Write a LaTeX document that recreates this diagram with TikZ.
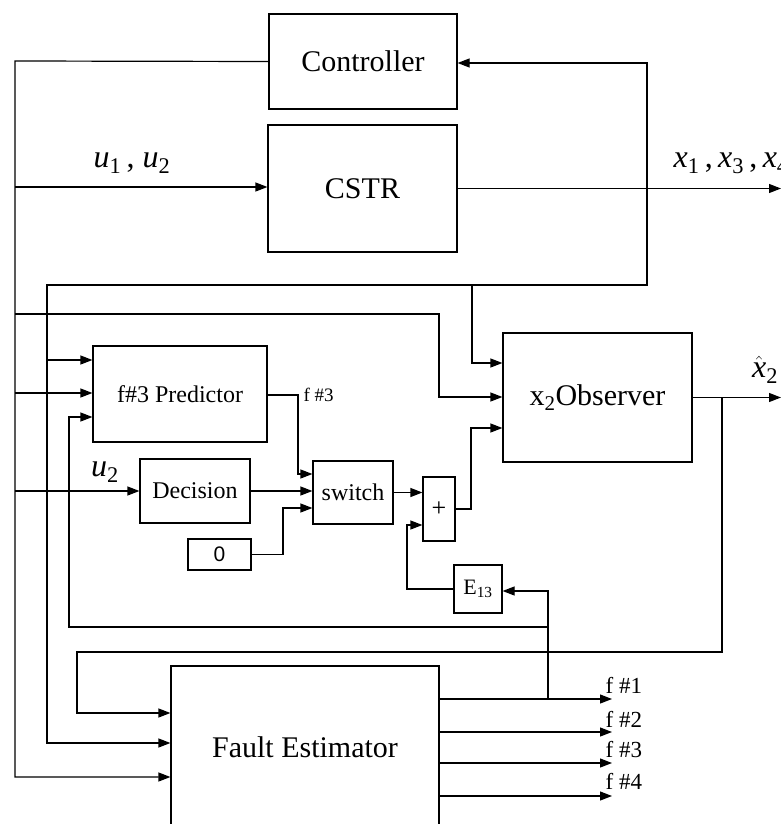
\documentclass[tikz,border=0pt]{standalone}
\usepackage{fontspec}
\setmainfont{Liberation Serif}
\newfontfamily\sansf{Liberation Sans}
\usetikzlibrary{arrows.meta}
\newcommand\fsz[1]{\fontsize{#1}{#1}\selectfont}
\begin{document}
\begin{tikzpicture}[x=1pt,y=-1pt,line width=1.2pt,
  >={Triangle[length=12pt,width=9pt]},
  blk/.style={draw,inner sep=0pt,font=\fsz{30}},
  sblk/.style={draw,inner sep=0pt,font=\fsz{24}},
  lbl/.style={inner sep=0pt,font=\fsz{32}},
  flbl/.style={inner sep=0pt,anchor=west,font=\fsz{23}}]
\clip (0,0) rectangle (781,824);
\fill[white] (0,0) rectangle (781,824);

% blocks
\node[blk,minimum width=188,minimum height=95] (ctrl) at (363,61.5) {Controller};
\node[blk,minimum width=189,minimum height=127] (cstr) at (362.5,188.5) {CSTR};
\node[blk,minimum width=189,minimum height=129] (obs) at (597.5,397.5) {x\textsubscript{2}Observer};
\node[sblk,minimum width=174,minimum height=96] (pred) at (180,394) {f\#3 Predictor};
\node[sblk,minimum width=110,minimum height=64] (dec) at (195,491) {Decision};
\node[sblk,minimum width=80,minimum height=63] (sw) at (353,492.5) {switch};
\node[draw,inner sep=0pt,minimum width=63,minimum height=31,font=\sansf\fsz{21}] (zero) at (219.5,554.5) {0};
\node[draw,inner sep=0pt,minimum width=32,minimum height=64,font=\fsz{26}] (plus) at (439,509) {+};
\node[draw,inner sep=0pt,minimum width=48,minimum height=48,font=\fsz{22}] (e13) at (478,589) {E\textsubscript{13}};
\node[blk,minimum width=268,minimum height=162] (fe) at (305,747) {Fault Estimator};

% controller output bus (u)
\coordinate (busA) at (15,61);
\draw[->] (ctrl.west) -- (busA) -- (15,777) -- (fe.west |- 0,777);
\draw[->] (15,187) -- (cstr.west |- 0,187);
\draw[->] (15,314) -- (439,314) -- (439,397) -- (obs.west |- 0,397);
\draw[->] (15,393) -- (pred.west |- 0,393);
\draw[->] (15,491) -- (dec.west);

% plant output and measured feedback
\coordinate (fb) at (647,188.5);
\draw[->] (cstr.east) -- (781,188.5);
\draw[->] (fb) -- (647,63) -- (ctrl.east |- 0,63);
\draw[->] (fb) -- (647,285) -- (47,285) -- (47,743) -- (fe.west |- 0,743);
\draw[->] (472,285) -- (472,363) -- (obs.west |- 0,363);
\draw[->] (47,360) -- (pred.west |- 0,360);

% observer output
\draw[->] (obs.east) -- (781,397.5);
\draw[->] (722,397.5) -- (722,652) -- (77,652) -- (77,713) -- (fe.west |- 0,713);

% predictor / decision / switch chain
\draw[->] (pred.east |- 0,395) -- (298,395) -- (298,474) -- (sw.west |- 0,474);
\draw[->] (dec.east) -- (sw.west |- dec.east);
\draw[->] (zero.east) -- (283,554.5) -- (283,508) -- (sw.west |- 0,508);
\draw[->] (sw.east) -- (plus.west |- sw.east);
\draw[->] (e13.west) -- (407,589) -- (407,525) -- (plus.west |- 0,525);
\draw[->] (plus.east) -- (471,509) -- (471,428) -- (obs.west |- 0,428);

% fault estimator outputs
\foreach \yy in {699,732,763,796}{
  \draw[->] (fe.east |- 0,\yy) -- (612,\yy);
}
\draw[->] (548,699) -- (548,591) -- (e13.east |- 0,591);
\draw[->] (548,627) -- (69,627) -- (69,417) -- (pred.west |- 0,417);

% labels
\node[lbl] (lu) at (132,163) {\textit{u}\textsubscript{1}\,, \textit{u}\textsubscript{2}};
\node[lbl,anchor=west] (lx) at (673,163) {\textit{x}\textsubscript{1}\,,\,\textit{x}\textsubscript{3}\,,\,\textit{x}\textsubscript{4}};
\node[lbl] (lxh) at (765,370) {$\hat{\textit{x}}$\textsubscript{2}};
\node[lbl] (lu2) at (105,472) {\textit{u}\textsubscript{2}};
\node[inner sep=0pt,anchor=west,font=\fsz{19}] (lf3) at (303,395) {f \#3};
\node[flbl] (lf1) at (605,685) {f \#1};
\node[flbl] (lf2) at (605,719) {f \#2};
\node[flbl] (lf3b) at (605,750) {f \#3};
\node[flbl] (lf4) at (605,781) {f \#4};
\end{tikzpicture}
\end{document}
